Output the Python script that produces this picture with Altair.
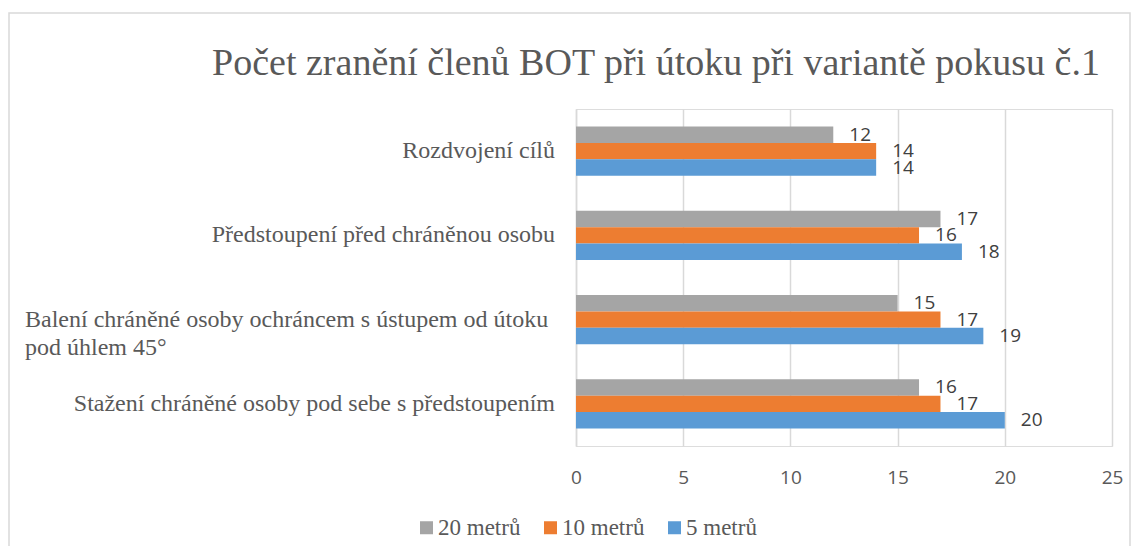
import altair as alt
import pandas as pd

categories = [
    "Rozdvojení cílů",
    "Předstoupení před chráněnou osobu",
    "Balení chráněné osoby ochráncem s ústupem od útoku pod úhlem 45°",
    "Stažení chráněné osoby pod sebe s předstoupením",
]
category_lines = [
    "Rozdvojení cílů",
    "Předstoupení před chráněnou osobu",
    "Balení chráněné osoby ochráncem s ústupem od útoku|pod úhlem 45°",
    "Stažení chráněné osoby pod sebe s předstoupením",
]
series = ["20 metrů", "10 metrů", "5 metrů"]
v20 = [12, 17, 15, 16]
v10 = [14, 16, 17, 17]
v5 = [14, 18, 19, 20]
colors = ["#A5A5A5", "#ED7D31", "#5B9BD5"]
x_ticks = [0, 5, 10, 15, 20, 25]
title = ["Počet zranění členů BOT při útoku při variantě pokusu č.1"]

rows = []
for s, vals in zip(series, [v20, v10, v5]):
    for c, v in zip(categories, vals):
        rows.append({"cat": c, "series": s, "value": v})
df = pd.DataFrame(rows)

cat_df = pd.DataFrame({"cat": categories, "lbl": category_lines,
                       "multi": [("|" in l) for l in category_lines]})
title_df = pd.DataFrame({"t": title})

GRAY = "#595959"
SERIF = "Liberation Serif, Times New Roman, serif"
SANS = "Open Sans"

y_enc = alt.Y("cat:N", sort=categories,
              scale=alt.Scale(paddingInner=0.415, paddingOuter=0.2075),
              axis=alt.Axis(title=None, labels=False, ticks=False, grid=False,
                            domain=True, domainColor="#D9D9D9", domainWidth=1.5))
x_enc = alt.X("value:Q",
              scale=alt.Scale(domain=[0, 25], nice=False),
              axis=alt.Axis(title=None, values=x_ticks, grid=True, gridColor="#D9D9D9",
                            gridWidth=1.5, domain=False, ticks=False, labelFlush=False,
                            labelFont=SANS, labelFontSize=19, labelColor=GRAY,
                            labelPadding=31, labelBaseline="middle"))
yoff = alt.YOffset("series:N", sort=series, scale=alt.Scale(paddingInner=0, paddingOuter=0))

base = alt.Chart(df)

bars = base.mark_bar().encode(
    y=y_enc,
    x=x_enc,
    yOffset=yoff,
    color=alt.Color("series:N", sort=series,
                    scale=alt.Scale(domain=series, range=colors),
                    legend=alt.Legend(title=None, orient="none", direction="horizontal",
                                      legendX=-161, legendY=407,
                                      symbolType="square", symbolSize=169,
                                      symbolStrokeWidth=0, symbolOpacity=1,
                                      labelFont=SERIF, labelFontSize=23,
                                      labelColor=GRAY, labelOffset=0,
                                      columnPadding=18, padding=0)),
)

labels = base.mark_text(align="left", baseline="middle", dx=16,
                        font=SANS, fontSize=19, color="#404040").encode(
    y=alt.Y("cat:N", sort=categories),
    x=alt.X("value:Q"),
    yOffset=alt.YOffset("series:N", sort=series),
    text=alt.Text("value:Q"),
)

cat_right = alt.Chart(cat_df).transform_filter("!datum.multi").mark_text(
    align="right", baseline="middle", font=SERIF, fontSize=24, color=GRAY
).encode(
    y=alt.Y("cat:N", sort=categories),
    x=alt.value(-21),
    text="lbl:N",
)

cat_left = alt.Chart(cat_df).transform_filter("datum.multi").transform_calculate(
    lines="split(datum.lbl, '|')"
).mark_text(
    align="left", baseline="middle", font=SERIF, fontSize=24, color=GRAY, lineHeight=28
).encode(
    y=alt.Y("cat:N", sort=categories),
    x=alt.value(-551),
    text="lines:N",
)

title_mark = alt.Chart(title_df).mark_text(
    align="center", baseline="alphabetic", font=SERIF, fontSize=38, color=GRAY
).encode(
    x=alt.value(80), y=alt.value(-34), text="t:N",
)

frame = alt.Chart(pd.DataFrame({"a": [0]})).mark_rect(
    fillOpacity=0, stroke="#D9D9D9", strokeWidth=1.5
).encode(
    x=alt.value(-567), x2=alt.value(554),
    y=alt.value(-96), y2=alt.value(460),
)

chart = alt.layer(frame, bars, labels, cat_right, cat_left, title_mark).properties(
    width=536, height=337,
    autosize=alt.AutoSizeParams(type="none"),
    padding={"left": 568, "top": 101, "right": 20, "bottom": 100},
).configure_view(stroke=None).configure(background="white")

chart.save("out.html", embed_options={"renderer": "svg", "actions": False})
